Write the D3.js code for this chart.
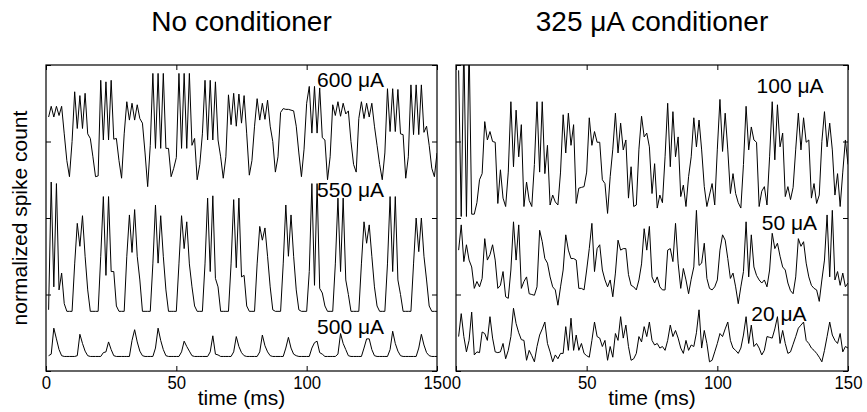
<!DOCTYPE html>
<html>
<head>
<meta charset="utf-8">
<script src="https://cdn.jsdelivr.net/npm/d3@7"></script>
<style>
  body { margin: 0; background: #fff; }
  svg text { font-family: "Liberation Sans", Arial, Helvetica, sans-serif; fill: #000; }
</style>
</head>
<body>
<div id="chart"></div>
<script>
// eixos
const ticksTempo = [0, 50, 100, 150];
const ticksY = [0, 1, 2, 3, 4];

// contagem normalizada (com deslocamento vertical), um valor por ms, t = 1..150
const tr600 = [
  3.32, 3.46, 3.32, 3.46, 3.34, 3.46, 3.10, 2.75, 2.54, 3.00,
  3.65, 3.17, 3.60, 3.17, 3.63, 3.10, 3.04, 2.80, 2.54, 2.55,
  3.80, 3.02, 3.78, 3.02, 3.80, 3.03, 3.04, 2.75, 2.52, 3.10,
  3.52, 3.28, 3.50, 3.28, 3.48, 3.30, 3.24, 2.85, 2.41, 2.95,
  3.89, 2.91, 3.89, 2.91, 3.89, 2.91, 2.91, 2.54, 2.65, 2.79,
  3.89, 2.91, 3.89, 2.91, 3.89, 2.95, 3.04, 2.50, 2.70, 3.10,
  3.80, 3.02, 3.80, 3.02, 3.78, 3.02, 2.80, 2.52, 2.80, 3.61,
  3.22, 3.63, 3.20, 3.62, 3.24, 3.60, 3.10, 2.56, 2.75, 3.20,
  3.56, 3.28, 3.50, 3.29, 3.54, 3.20, 3.00, 2.60, 2.80, 3.38,
  3.43, 3.42, 3.42, 3.41, 3.40, 3.20, 2.85, 2.54, 2.90, 3.50,
  3.72, 3.11, 3.72, 3.11, 3.70, 3.05, 3.02, 2.50, 2.80, 3.48,
  3.34, 3.52, 3.33, 3.50, 3.36, 3.40, 3.00, 2.70, 2.60, 3.30,
  3.52, 3.30, 3.50, 3.32, 3.50, 3.20, 2.95, 2.70, 2.50, 2.85,
  3.69, 3.13, 3.69, 3.13, 3.68, 3.10, 3.09, 2.52, 2.80, 3.74,
  3.09, 3.74, 3.09, 3.74, 3.12, 3.20, 2.95, 2.65, 2.54, 2.85
];
const tr550 = [
  0.80, 2.47, 1.10, 2.45, 1.06, 1.28, 0.88, 0.78, 0.78, 0.78,
  1.40, 1.93, 1.63, 2.03, 1.50, 1.06, 0.78, 0.78, 0.78, 0.78,
  1.50, 2.28, 1.25, 2.28, 1.30, 1.30, 0.85, 0.78, 0.78, 0.78,
  1.50, 2.04, 1.55, 2.11, 1.50, 1.19, 0.78, 0.78, 0.78, 0.78,
  1.40, 2.17, 1.41, 2.03, 1.50, 1.06, 0.78, 0.78, 0.78, 0.78,
  1.40, 2.03, 1.60, 1.95, 1.40, 1.10, 0.85, 0.78, 0.78, 0.78,
  1.40, 2.26, 1.30, 2.29, 1.21, 1.10, 0.78, 0.78, 0.78, 0.78,
  1.40, 2.24, 1.35, 2.26, 1.23, 1.25, 0.85, 0.78, 0.78, 0.78,
  1.40, 1.89, 1.71, 1.87, 1.50, 1.10, 0.80, 0.78, 0.78, 0.78,
  1.40, 2.17, 1.50, 2.04, 1.50, 1.06, 0.80, 0.78, 0.78, 0.78,
  1.30, 2.45, 1.12, 2.45, 1.08, 1.02, 0.85, 0.78, 0.78, 0.78,
  1.40, 2.26, 1.30, 2.26, 1.19, 1.00, 0.78, 0.78, 0.78, 0.78,
  1.40, 1.95, 1.67, 1.91, 1.50, 1.10, 0.85, 0.78, 0.78, 0.78,
  1.40, 2.28, 1.30, 2.28, 1.19, 1.00, 0.78, 0.78, 0.78, 0.78,
  1.40, 2.00, 1.56, 2.00, 1.50, 1.19, 0.85, 0.78, 0.78, 0.78
];
const tr500 = [
  0.20, 0.22, 0.56, 0.42, 0.28, 0.20, 0.19, 0.19, 0.19, 0.19,
  0.19, 0.20, 0.48, 0.36, 0.26, 0.20, 0.19, 0.19, 0.19, 0.19,
  0.19, 0.24, 0.25, 0.38, 0.28, 0.20, 0.19, 0.19, 0.19, 0.19,
  0.19, 0.19, 0.40, 0.54, 0.38, 0.26, 0.20, 0.19, 0.19, 0.19,
  0.19, 0.30, 0.56, 0.40, 0.28, 0.20, 0.19, 0.19, 0.19, 0.19,
  0.19, 0.25, 0.39, 0.32, 0.26, 0.20, 0.19, 0.19, 0.19, 0.19,
  0.19, 0.19, 0.25, 0.46, 0.22, 0.21, 0.19, 0.19, 0.19, 0.19,
  0.19, 0.25, 0.45, 0.32, 0.24, 0.20, 0.19, 0.19, 0.19, 0.19,
  0.19, 0.25, 0.47, 0.33, 0.25, 0.20, 0.19, 0.19, 0.19, 0.19,
  0.19, 0.30, 0.44, 0.30, 0.22, 0.20, 0.19, 0.19, 0.19, 0.19,
  0.19, 0.30, 0.37, 0.39, 0.24, 0.22, 0.19, 0.19, 0.19, 0.19,
  0.19, 0.22, 0.49, 0.36, 0.28, 0.20, 0.19, 0.19, 0.19, 0.19,
  0.19, 0.30, 0.42, 0.42, 0.28, 0.20, 0.19, 0.19, 0.19, 0.19,
  0.19, 0.28, 0.52, 0.36, 0.26, 0.20, 0.19, 0.19, 0.19, 0.19,
  0.19, 0.19, 0.30, 0.48, 0.34, 0.24, 0.20, 0.19, 0.19, 0.19
];
const tr100 = [
  3.93, 2.02, 4.30, 2.02, 4.30, 2.05, 2.05, 2.20, 2.50, 2.58,
  3.26, 3.02, 3.13, 3.00, 2.99, 2.19, 2.63, 2.26, 2.15, 2.60,
  3.52, 2.67, 3.41, 2.80, 3.22, 2.15, 2.47, 2.23, 2.15, 2.70,
  3.52, 2.60, 3.52, 2.58, 2.95, 2.17, 2.30, 2.21, 2.17, 2.60,
  3.35, 2.85, 3.37, 2.95, 3.22, 2.19, 2.39, 2.40, 2.41, 2.60,
  3.31, 2.95, 3.13, 2.99, 2.99, 2.50, 2.45, 2.06, 2.54, 2.90,
  3.37, 2.85, 3.24, 2.89, 3.02, 2.26, 2.67, 2.15, 2.17, 2.90,
  3.33, 3.06, 3.11, 2.93, 2.32, 2.71, 2.13, 2.30, 2.20, 2.80,
  3.50, 2.67, 3.39, 2.80, 3.06, 2.28, 2.43, 2.15, 2.54, 2.80,
  3.31, 2.93, 3.28, 2.89, 2.41, 2.15, 2.30, 2.45, 2.17, 2.90,
  3.55, 2.87, 3.37, 2.89, 2.32, 2.58, 2.32, 2.20, 2.13, 2.70,
  3.46, 2.89, 3.19, 3.02, 2.99, 2.15, 2.35, 2.41, 2.17, 2.80,
  3.52, 2.76, 3.48, 2.93, 3.11, 2.28, 2.41, 2.24, 2.40, 2.90,
  3.37, 2.89, 3.31, 2.99, 3.02, 2.26, 2.45, 2.19, 2.30, 3.00,
  3.39, 2.93, 3.24, 2.89, 2.30, 2.58, 2.15, 2.60, 3.02, 2.70
];
const tr50 = [
  1.58, 1.91, 1.43, 1.65, 1.45, 1.36, 1.08, 1.17, 1.10, 1.21,
  1.73, 1.45, 1.52, 1.65, 1.45, 1.08, 1.12, 1.30, 0.97, 0.95,
  1.32, 1.95, 1.45, 1.91, 1.08, 1.17, 1.23, 1.01, 1.00, 0.99,
  1.10, 1.84, 1.69, 1.47, 1.41, 1.23, 1.10, 1.06, 0.86, 1.10,
  1.32, 1.78, 1.58, 1.47, 1.47, 1.45, 1.08, 1.08, 1.06, 1.32,
  1.60, 1.93, 1.30, 1.60, 1.65, 1.32, 1.19, 1.10, 1.19, 0.97,
  1.28, 1.71, 1.58, 1.60, 1.60, 1.26, 1.12, 1.10, 1.06, 1.19,
  1.40, 1.86, 1.58, 1.89, 1.23, 1.15, 1.23, 1.10, 1.06, 1.06,
  1.58, 1.60, 1.43, 1.93, 1.41, 1.08, 1.34, 1.19, 1.01, 1.20,
  1.36, 2.10, 1.38, 1.41, 1.67, 1.21, 1.08, 1.06, 1.10, 1.19,
  1.58, 1.78, 1.71, 1.47, 1.21, 1.28, 1.10, 0.88, 1.10, 1.30,
  1.95, 1.23, 1.78, 1.36, 1.25, 1.19, 1.15, 1.19, 1.10, 1.32,
  1.80, 1.60, 1.67, 1.50, 1.36, 1.32, 1.15, 1.05, 1.01, 1.23,
  1.73, 1.63, 1.69, 1.41, 1.23, 1.12, 1.08, 1.06, 0.91, 1.19,
  1.45, 2.04, 1.23, 2.10, 1.19, 1.30, 1.12, 1.28, 1.10, 1.15
];
const tr20 = [
  0.45, 0.75, 0.45, 0.25, 0.40, 0.77, 0.21, 0.25, 0.24, 0.51,
  0.49, 0.40, 0.71, 0.43, 0.25, 0.24, 0.25, 0.36, 0.16, 0.27,
  0.45, 0.82, 0.62, 0.50, 0.41, 0.40, 0.14, 0.27, 0.20, 0.12,
  0.32, 0.47, 0.55, 0.64, 0.36, 0.25, 0.12, 0.21, 0.16, 0.23,
  0.23, 0.58, 0.27, 0.69, 0.27, 0.47, 0.27, 0.36, 0.23, 0.20,
  0.18, 0.40, 0.64, 0.45, 0.43, 0.32, 0.40, 0.14, 0.32, 0.18,
  0.49, 0.40, 0.71, 0.43, 0.60, 0.32, 0.14, 0.16, 0.23, 0.45,
  0.38, 0.58, 0.45, 0.64, 0.40, 0.34, 0.36, 0.30, 0.32, 0.27,
  0.40, 0.60, 0.45, 0.53, 0.43, 0.30, 0.23, 0.40, 0.27, 0.34,
  0.32, 0.50, 0.80, 0.30, 0.53, 0.36, 0.12, 0.14, 0.25, 0.36,
  0.49, 0.45, 0.55, 0.64, 0.40, 0.30, 0.27, 0.23, 0.30, 0.47,
  0.71, 0.36, 0.60, 0.32, 0.36, 0.30, 0.21, 0.27, 0.45, 0.44,
  0.43, 0.55, 0.71, 0.36, 0.53, 0.36, 0.23, 0.25, 0.35, 0.45,
  0.56, 0.60, 0.64, 0.40, 0.36, 0.30, 0.27, 0.23, 0.18, 0.12,
  0.27, 0.45, 0.64, 0.47, 0.40, 0.36, 0.49, 0.25, 0.32, 0.30
];

const titulos = ["No conditioner", "325 μA conditioner"];
const rotulosEsq = ["600 μA", "550 μA", "500 μA"];
const rotulosDir = ["100 μA", "50 μA", "20 μA"];

// layout (pixels e posições dos rótulos em unidades de dados)
const width = 867, height = 412;
const topo = 65, base = 371;
const paineis = [
  { left: 46, right: 437, titulo: titulos[0], tracos: [tr600, tr550, tr500],
    rotulos: rotulosEsq, posRot: [[104, 3.71], [104, 2.27], [104, 0.48]] },
  { left: 456, right: 848, titulo: titulos[1], tracos: [tr100, tr50, tr20],
    rotulos: rotulosDir, posRot: [[115, 3.63], [117, 1.84], [113, 0.65]] }
];

const svg = d3.select("#chart").append("svg")
  .attr("width", width).attr("height", height)
  .style("background", "#fff");

paineis.forEach((p, i) => desenharPainel(p, i));

// rótulo do eixo y, só no painel da esquerda
svg.append("text")
  .attr("transform", `translate(27,${(topo + base) / 2}) rotate(-90)`)
  .attr("text-anchor", "middle")
  .style("font-size", "21px")
  .text("normalized spike count");

function desenharPainel(p, i) {
  const x = d3.scaleLinear().domain([0, 150]).range([p.left, p.right]);
  const y = d3.scaleLinear().domain([0, 4]).range([base, topo]);

  const clipId = "clip" + i;
  svg.append("clipPath").attr("id", clipId)
    .append("rect")
    .attr("x", p.left).attr("y", topo)
    .attr("width", p.right - p.left).attr("height", base - topo);

  const linha = d3.line()
    .x((d, j) => x(j + 1))
    .y(d => y(d));

  svg.append("g").attr("clip-path", `url(#${clipId})`)
    .selectAll("path")
    .data(p.tracos)
    .join("path")
    .attr("d", linha)
    .attr("fill", "none")
    .attr("stroke", "#000")
    .attr("stroke-width", 1)
    .attr("stroke-linejoin", "miter");

  // ticks para dentro nos quatro lados
  const gB = svg.append("g").attr("transform", `translate(0,${base})`)
    .call(d3.axisBottom(x).tickValues(ticksTempo).tickSize(-5).tickPadding(5));
  const gT = svg.append("g").attr("transform", `translate(0,${topo})`)
    .call(d3.axisTop(x).tickValues(ticksTempo).tickSize(-5).tickFormat(""));
  const gL = svg.append("g").attr("transform", `translate(${p.left},0)`)
    .call(d3.axisLeft(y).tickValues(ticksY).tickSize(-5).tickFormat(""));
  const gR = svg.append("g").attr("transform", `translate(${p.right},0)`)
    .call(d3.axisRight(y).tickValues(ticksY).tickSize(-5).tickFormat(""));

  [gB, gT, gL, gR].forEach(g => {
    g.select(".domain").remove();
    g.selectAll("line").attr("stroke", "#000");
  });
  gB.attr("font-family", null).attr("font-size", null);
  // dígitos um pouco estreitos, como no original
  gB.selectAll("text")
    .style("font-size", "19px")
    .attr("transform", "scale(0.88,1)");

  svg.append("rect")
    .attr("x", p.left).attr("y", topo)
    .attr("width", p.right - p.left).attr("height", base - topo)
    .attr("fill", "none").attr("stroke", "#000").attr("stroke-width", 1.2);

  // rótulos das curvas
  p.rotulos.forEach((r, k) => {
    svg.append("text")
      .attr("x", x(p.posRot[k][0])).attr("y", y(p.posRot[k][1]))
      .style("font-size", "21px")
      .text(r);
  });

  svg.append("text")
    .attr("x", (p.left + p.right) / 2).attr("y", 405)
    .attr("text-anchor", "middle")
    .style("font-size", "21px")
    .text("time (ms)");

  svg.append("text")
    .attr("x", (p.left + p.right) / 2).attr("y", 31)
    .attr("text-anchor", "middle")
    .style("font-size", "28px")
    .text(p.titulo);
}
</script>
</body>
</html>
